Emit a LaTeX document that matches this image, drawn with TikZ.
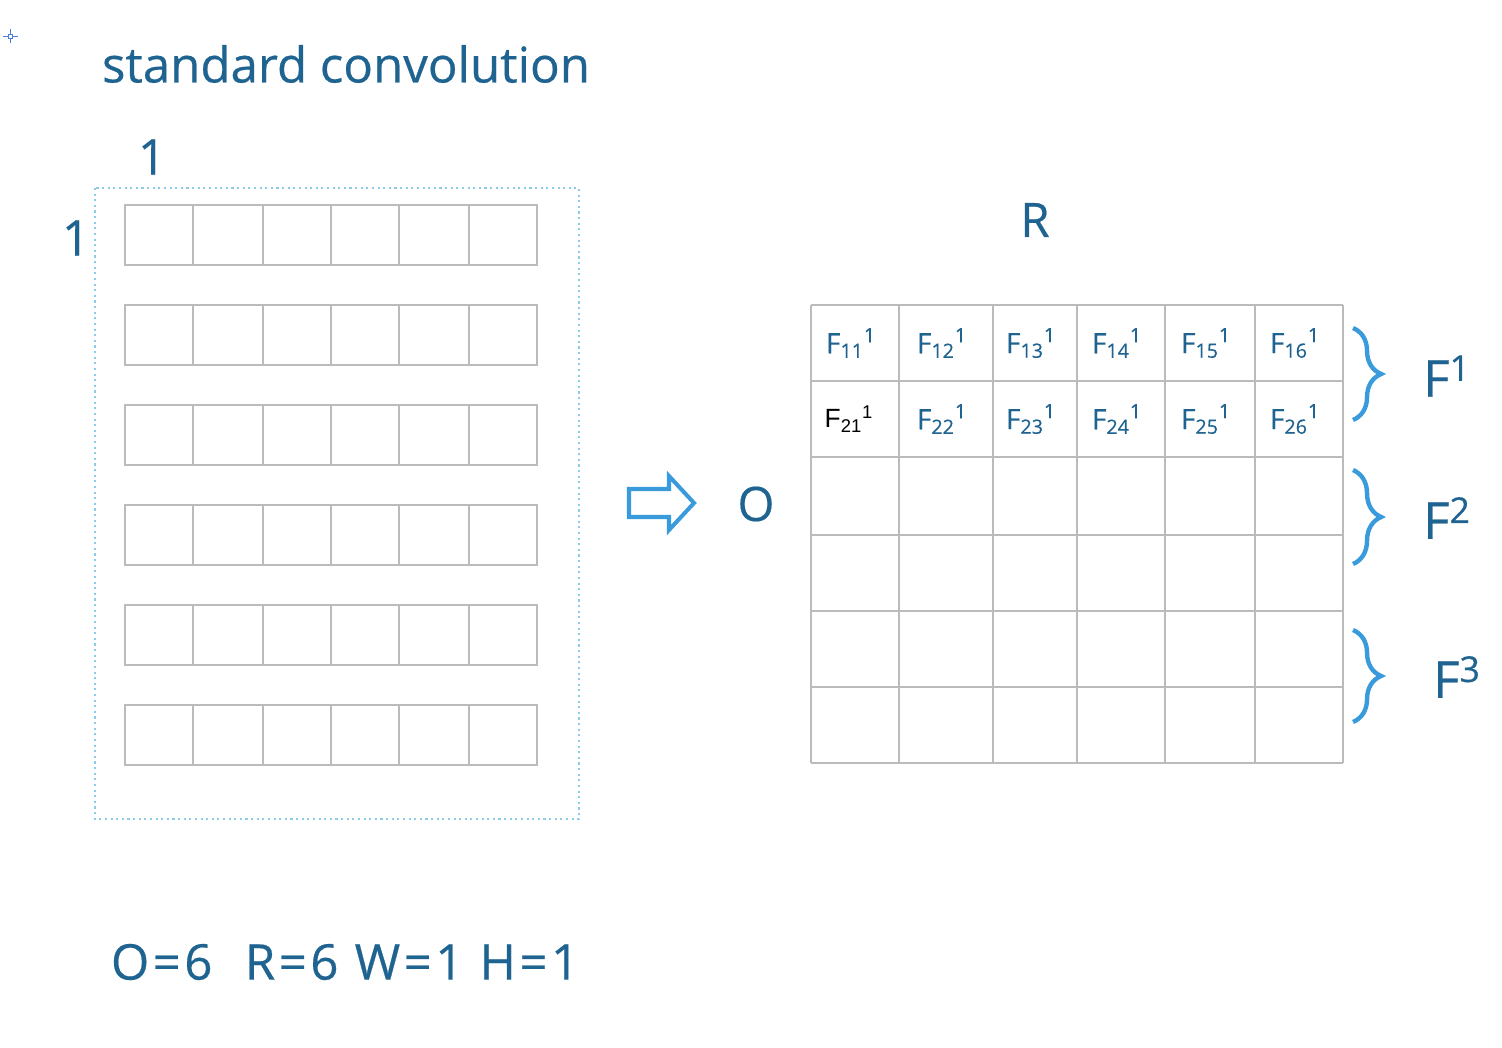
\documentclass[tikz,border=0pt]{standalone}
\usepackage{fontspec}
\setmainfont{Open Sans}
\newfontfamily\medium{Open Sans}[FakeBold=0.4]
\newfontfamily\helv{Liberation Sans}
\newfontfamily\wide{Open Sans}[LetterSpace=7,FakeBold=0.4]
\usepackage{tikz}
\usetikzlibrary{decorations.pathreplacing,positioning,calc}

\definecolor{navy}{HTML}{1F6391}
\definecolor{sky}{HTML}{3A9BDC}
\definecolor{dotblue}{HTML}{8CCBEA}
\definecolor{cellgray}{HTML}{BBBBBB}
\definecolor{markblue}{HTML}{4A7FD8}

\tikzset{
  lbl/.style={text=navy, inner sep=0pt},
  cell/.style={draw=cellgray, line width=0.85pt},
  fbrace/.style={draw=sky, line width=2.5pt, decorate, decoration={brace, amplitude=16pt}},
}

\begin{document}
\begin{tikzpicture}[x=0.02cm, y=-0.02cm]
          \useasboundingbox (0,0) rectangle (1502,1048);

          % little cross mark
          \draw[markblue, line width=0.5pt] (3,36) -- (8,36) (12,36) -- (18,36)
                (10,29) -- (10,34) (10,38) -- (10,43);
          \draw[markblue, line width=0.5pt] (8,34) rectangle (12,38);

          \node[lbl, font=\medium\fontsize{28}{34}\selectfont] (title) at (346,64) {standard convolution};

          % input: six rows of six cells
          \draw[dotblue, line width=1.2pt, dotted] (95,188) rectangle (579,819);
          \foreach \r in {0,...,5}{
            \draw[cell] (125,205+100*\r) rectangle (537,265+100*\r);
            \foreach \c in {193,263,331,399,469}
              \draw[cell] (\c,205+100*\r) -- (\c,265+100*\r);
          }
          \node[lbl, font=\medium\fontsize{28}{32}\selectfont] (w1) at (152,157) {1};
          \node[lbl, font=\medium\fontsize{28}{32}\selectfont] (h1) at (76,238) {1};

          % arrow
          \draw[sky, line width=2.3pt, line join=miter]
                (629,489) -- (669,489) -- (669,476) -- (694,503) -- (669,530) -- (669,517) -- (629,517) -- cycle;

          \node[lbl, font=\medium\fontsize{27}{32}\selectfont] (o) at (756,504) {O};
          \node[lbl, font=\medium\fontsize{27}{32}\selectfont] (r) at (1035,220) {R};

          % output grid
          \foreach \y in {305,381,457,535,611,687,763}
            \draw[cell] (811,\y) -- (1343,\y);
          \foreach \x in {811,899,993,1077,1165,1255,1343}
            \draw[cell] (\x,305) -- (\x,763);

          \foreach \x/\k in {855/1,946/2,1035/3,1121/4,1210/5,1299/6}{
            \node[lbl, font=\medium\fontsize{16}{19}\selectfont] (f1\k) at (\x-4,343) {F\textsubscript{1\k}\textsuperscript{1}};
          }
          \node[inner sep=0pt, font=\helv\fontsize{15}{18}\selectfont] (f21) at (849,419) {F\textsubscript{21}\textsuperscript{1}};
          \foreach \x/\k in {946/2,1035/3,1121/4,1210/5,1299/6}{
            \node[lbl, font=\medium\fontsize{16}{19}\selectfont] (f2\k) at (\x-4,419) {F\textsubscript{2\k}\textsuperscript{1}};
          }

          % braces
          \coordinate (b1t) at (1353,328); \coordinate (b1b) at (1353,420);
          \coordinate (b2t) at (1353,470); \coordinate (b2b) at (1353,564);
          \coordinate (b3t) at (1353,630); \coordinate (b3b) at (1353,722);
          \draw[fbrace] (b1t) -- (b1b);
          \draw[fbrace] (b2t) -- (b2b);
          \draw[fbrace] (b3t) -- (b3b);
          \node[lbl, font=\medium\fontsize{29}{34}\selectfont] (F1) at (1447,376) {F\textsuperscript{1}};
          \node[lbl, font=\medium\fontsize{29}{34}\selectfont] (F2) at (1447,518) {F\textsuperscript{2}};
          \node[lbl, font=\medium\fontsize{29}{34}\selectfont] (F3) at (1457,677) {F\textsuperscript{3}};

          \node[lbl, font=\wide\fontsize{28}{34}\selectfont] (dims) at (345,962) {O=6\ \ R=6 W=1 H=1};
        \end{tikzpicture}
\end{document}
